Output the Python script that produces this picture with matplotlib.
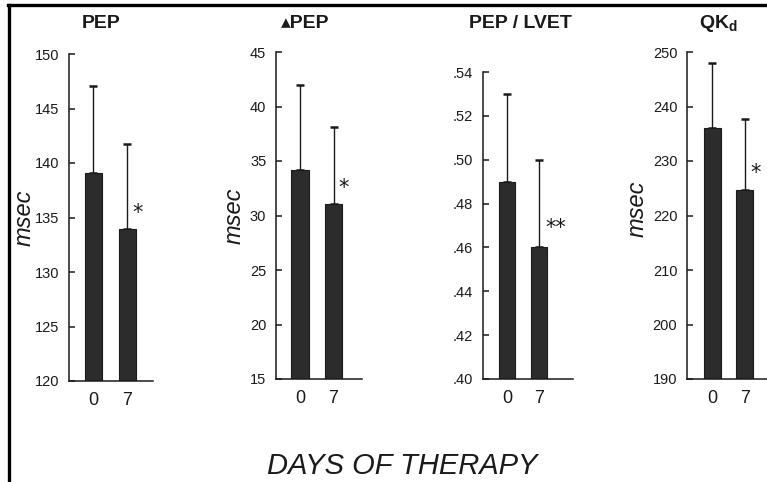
import matplotlib
matplotlib.use("Agg")
import matplotlib.pyplot as plt
from matplotlib.lines import Line2D

plt.rcParams['font.family'] = ['Liberation Sans', 'DejaVu Sans']

W, H = 767, 482

# ---- data -------------------------------------------------------------
days = ['0', '7']

titles = ['PEP', '\u25b4PEP', 'PEP / LVET', r'QK$_{\mathregular{d}}$']

pep_mean = [139.1, 133.9]
pep_sd = [8.0, 7.8]

dpep_mean = [34.2, 31.1]
dpep_sd = [7.8, 7.0]

ratio_mean = [0.490, 0.460]
ratio_sd = [0.040, 0.040]

qkd_mean = [236.1, 224.7]
qkd_sd = [11.8, 13.0]

pep_ticks = [120, 125, 130, 135, 140, 145, 150]
dpep_ticks = [15, 20, 25, 30, 35, 40, 45]
ratio_ticks = [0.40, 0.42, 0.44, 0.46, 0.48, 0.50, 0.52, 0.54]
ratio_ticklabels = ['.40', '.42', '.44', '.46', '.48', '.50', '.52', '.54']
qkd_ticks = [190, 200, 210, 220, 230, 240, 250]

units = ['msec', 'msec', None, 'msec']
significance = ['*', '*', '**', '*']

# ---- layout (pixel boxes of each panel) --------------------------------
# (left, right, top, bottom) of the axes in pixels, plus x-limits
boxes = [
    (69, 153, 54, 381, (-0.72, 1.75)),
    (276, 362, 52, 379, (-0.72, 1.85)),
    (483, 573, 72, 379, (-0.75, 2.06)),
    (687, 770, 52, 379, (-0.78, 1.77)),
]
title_pos = [(101, 24), (305, 24), (520, 23), (718, 23)]
unit_pos = [(24, 218), (234, 216), None, (637, 209)]
star_offset = [(7, 12), (7.5, 11), (12, 14), (8, 12)]

panels = [
    (pep_mean, pep_sd, pep_ticks, [str(t) for t in pep_ticks]),
    (dpep_mean, dpep_sd, dpep_ticks, [str(t) for t in dpep_ticks]),
    (ratio_mean, ratio_sd, ratio_ticks, ratio_ticklabels),
    (qkd_mean, qkd_sd, qkd_ticks, [str(t) for t in qkd_ticks]),
]

fig = plt.figure(figsize=(W / 100, H / 100), dpi=100)

bar_color = '#2c2c2c'
ink = '#1a1a1a'

for i, (means, sds, ticks, labels) in enumerate(panels):
    l, r, t, b, xl = boxes[i]
    ax = fig.add_axes([l / W, 1 - b / H, (r - l) / W, (b - t) / H])
    x = [0, 1]
    ax.bar(x, means, width=0.52, color=bar_color, edgecolor=ink, linewidth=0.8, zorder=2)
    ax.errorbar(x, means, yerr=[[0, 0], sds], fmt='none', ecolor=ink,
                elinewidth=1.0, capsize=2.8, capthick=1.8, zorder=1)
    ax.set_xlim(*xl)
    ax.set_ylim(ticks[0], ticks[-1])
    ax.set_yticks(ticks)
    ax.set_yticklabels(labels)
    ax.set_xticks(x)
    ax.set_xticklabels(days)
    for s in ('top', 'right'):
        ax.spines[s].set_visible(False)
    for s in ('left', 'bottom'):
        ax.spines[s].set_linewidth(1.1)
        ax.spines[s].set_color(ink)
    ax.tick_params(axis='y', direction='in', length=4, width=1.1, pad=7,
                   labelsize=10.5, colors=ink)
    ax.tick_params(axis='x', length=0, pad=8, labelsize=13, colors=ink)
    ax.patch.set_visible(False)

    ax.annotate(significance[i], xy=(1, means[1]), xytext=star_offset[i],
                textcoords='offset points', ha='center', va='center',
                fontsize=15, color=ink, family=['DejaVu Sans'])

    tx, ty = title_pos[i]
    fig.text(tx / W, 1 - ty / H, titles[i], ha='center', va='center',
             fontsize=14, fontweight='bold', color=ink)

    if units[i]:
        ux, uy = unit_pos[i]
        fig.text(ux / W, 1 - uy / H, units[i], rotation=90, ha='center',
                 va='center', fontsize=17, style='italic', color=ink)

fig.text(402 / W, 1 - 466 / H, 'DAYS OF THERAPY', ha='center', va='center',
         fontsize=21, style='italic', color=ink)

# frame lines along the top and left edges
fig.add_artist(Line2D([8 / W, 1], [1 - 5 / H, 1 - 5 / H], color='black',
                      linewidth=2.4, transform=fig.transFigure))
fig.add_artist(Line2D([9 / W, 9 / W], [0, 1 - 5 / H], color='black',
                      linewidth=2.4, transform=fig.transFigure))

fig.savefig('out.png', dpi=100, facecolor='white')
